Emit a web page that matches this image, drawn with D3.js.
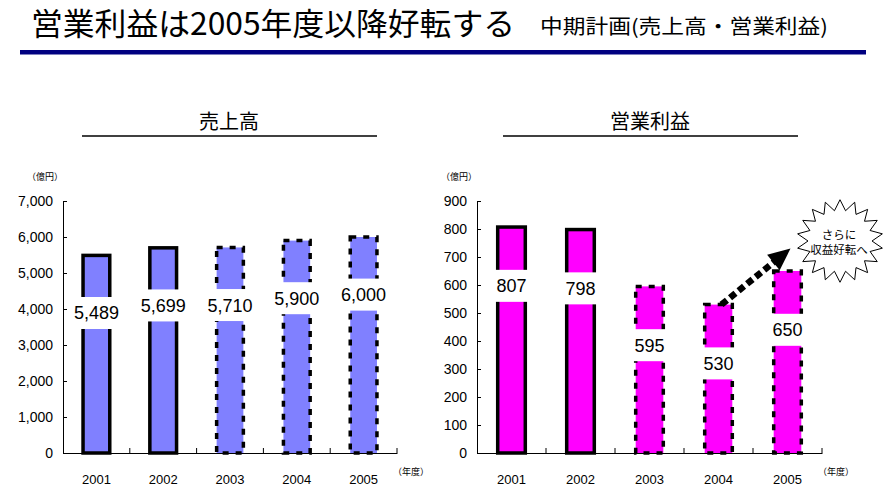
<!DOCTYPE html>
<html>
<head>
<meta charset="utf-8">
<script src="https://cdn.jsdelivr.net/npm/d3@7"></script>
<style>
  body { margin: 0; background: #fff; }
  svg { display: block; }
  .axis text { font-family: "Liberation Sans", Arial, sans-serif; fill: #000; }
  .jp { font-family: "Noto Sans CJK JP", sans-serif; }
</style>
</head>
<body>
<svg width="889" height="492"></svg>
<script>
// data
const years = ["2001", "2002", "2003", "2004", "2005"];
const sales = [5489, 5699, 5710, 5900, 6000];
const profit = [807, 798, 595, 530, 650];
const planned = [false, false, true, true, true];   // dashed outline = plan
const salesTicks = [0, 1000, 2000, 3000, 4000, 5000, 6000, 7000];
const profitTicks = [0, 100, 200, 300, 400, 500, 600, 700, 800, 900];
const arrowFrom = 530, arrowTo = 730;

const svg = d3.select("svg");
svg.append("rect").attr("width", 889).attr("height", 492).attr("fill", "#fff");

// header
svg.append("text").attr("class", "jp")
    .attr("x", 31).attr("y", 35)
    .attr("font-size", 31)
    .attr("textLength", 484).attr("lengthAdjust", "spacingAndGlyphs")
    .text("営業利益は2005年度以降好転する");
svg.append("text").attr("class", "jp")
    .attr("x", 540).attr("y", 34)
    .attr("font-size", 20)
    .attr("textLength", 288).attr("lengthAdjust", "spacingAndGlyphs")
    .text("中期計画(売上高・営業利益)");
svg.append("rect")
    .attr("x", 20).attr("y", 50).attr("width", 846).attr("height", 4.5)
    .attr("fill", "#000080");

function drawPanel(o) {
  const x = d3.scaleBand().domain(years).range(o.xr);
  const y = d3.scaleLinear().domain([0, o.max]).range([453, 201]);
  const g = svg.append("g");

  // panel title
  const cx = (o.xr[0] + o.xr[1]) / 2;
  g.append("text").attr("class", "jp")
      .attr("x", o.titleX).attr("y", 129)
      .attr("text-anchor", "middle").attr("font-size", 20)
      .text(o.title);
  g.append("line")
      .attr("x1", o.titleX - 147).attr("x2", o.titleX + 148)
      .attr("y1", 136).attr("y2", 136)
      .attr("stroke", "#000").attr("stroke-width", 1.5);

  // units
  g.append("text").attr("class", "jp")
      .attr("x", o.xr[0] - 36).attr("y", 180).attr("font-size", 9)
      .text("（億円）");
  g.append("text").attr("class", "jp")
      .attr("x", o.xr[1] - 4).attr("y", 475).attr("font-size", 9)
      .text("（年度）");

  // axes
  g.append("g").attr("class", "axis")
      .attr("transform", "translate(" + o.xr[0] + ",0)")
      .call(d3.axisLeft(y).tickValues(o.ticks).tickFormat(d3.format(","))
        .tickSize(-4).tickSizeOuter(0).tickPadding(10))
      .call(s => s.selectAll("text").attr("font-size", 14))
      .call(s => s.selectAll("path, line").attr("stroke", "#000"));

  g.append("g").attr("class", "axis")
      .attr("transform", "translate(0,453)")
      .call(d3.axisBottom(x).tickSize(0).tickSizeOuter(0).tickPadding(22))
      .call(s => s.selectAll("text").attr("font-size", 13))
      .call(s => s.select(".domain").attr("stroke", "#000"));

  g.selectAll(".sep").data(years).enter().append("line")
      .attr("x1", d => x(d) + x.bandwidth()).attr("x2", d => x(d) + x.bandwidth())
      .attr("y1", 453).attr("y2", 448)
      .attr("stroke", "#000");

  // bars
  const bw = x.bandwidth() * 0.4;
  g.selectAll(".bar").data(o.values).enter().append("rect")
      .attr("x", (d, i) => x(years[i]) + (x.bandwidth() - bw) / 2)
      .attr("y", d => y(d))
      .attr("width", bw)
      .attr("height", d => 453 - y(d))
      .attr("fill", o.color)
      .attr("stroke", "#000")
      .attr("stroke-width", 3.5)
      .attr("stroke-dasharray", (d, i) => planned[i] ? "6,7" : null);

  // value labels on white boxes
  const lab = g.selectAll(".lab").data(o.values).enter().append("g")
      .attr("transform", (d, i) => "translate(" + (x(years[i]) + x.bandwidth() / 2) + "," + y(d - o.drop) + ")");
  lab.append("rect")
      .attr("x", -24).attr("y", -16).attr("width", 48).attr("height", 32)
      .attr("fill", "#fff");
  lab.append("text")
      .attr("text-anchor", "middle").attr("dy", "0.36em")
      .attr("font-family", "'Liberation Sans', Arial, sans-serif")
      .attr("font-size", 18)
      .text(d => d3.format(",")(d));

  return { x, y, g };
}

drawPanel({ title: "売上高", titleX: 229, xr: [63, 397], max: 7000, ticks: salesTicks,
            values: sales, color: "#8080ff", drop: 1600 });
const right = drawPanel({ title: "営業利益", titleX: 650, xr: [477, 822], max: 900, ticks: profitTicks,
            values: profit, color: "#ff00ff", drop: 210 });

// dotted arrow 2004 -> 2005
const rx = right.x, ry = right.y;
const x0 = rx("2004") + rx.bandwidth() / 2 + 3, y0 = ry(arrowFrom);
const x1 = rx("2005") + rx.bandwidth() / 2 + 3, y1 = ry(arrowTo);
const len = Math.hypot(x1 - x0, y1 - y0);
const ux = (x1 - x0) / len, uy = (y1 - y0) / len;
const hl = 22, hw = 10;
const bx = x1 - ux * hl, by = y1 - uy * hl;
svg.append("line")
    .attr("x1", x0).attr("y1", y0).attr("x2", bx + ux * 2).attr("y2", by + uy * 2)
    .attr("stroke", "#000").attr("stroke-width", 6.5)
    .attr("stroke-dasharray", "7,4");
svg.append("polygon")
    .attr("points", [[x1, y1], [bx - uy * hw, by + ux * hw], [bx + uy * hw, by - ux * hw]].join(" "))
    .attr("fill", "#000");

// starburst callout
const cx = 840, cy = 241, spikes = 18;
const star = d3.range(spikes * 2).map(i => {
  const a = i * Math.PI / spikes - Math.PI / 2;
  const r = i % 2 ? 32 : 43;
  return [cx + Math.cos(a) * r, cy + Math.sin(a) * r * 0.96];
});
svg.append("path")
    .attr("d", d3.line()(star) + "Z")
    .attr("fill", "#fff").attr("stroke", "#000").attr("stroke-width", 1);
svg.append("text").attr("class", "jp")
    .attr("x", cx - 1).attr("y", 239).attr("text-anchor", "middle").attr("font-size", 11.5)
    .text("さらに");
svg.append("text").attr("class", "jp")
    .attr("x", cx - 1).attr("y", 254).attr("text-anchor", "middle").attr("font-size", 11.5)
    .text("収益好転へ");
</script>
</body>
</html>
